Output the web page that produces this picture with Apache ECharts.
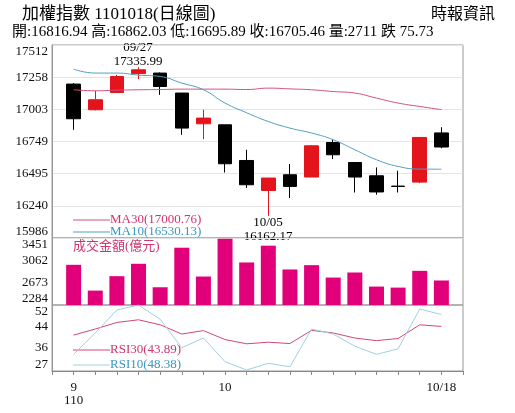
<!DOCTYPE html>
<html><head><meta charset="utf-8">
<script src="https://cdn.jsdelivr.net/npm/echarts@6/dist/echarts.min.js"></script>
<style>html,body{margin:0;background:#fff}#c{width:515px;height:413px}</style>
</head><body><div id="c"></div>
<script>
// 日期(首尾留白)
var dates = ['', '9/22','9/23','9/24','9/27','9/28','9/29','9/30','10/01','10/04','10/05',
  '10/06','10/07','10/08','10/12','10/13','10/14','10/15','10/18', ''];
// K線 [開, 收, 低, 高]
var kdata = ['-',
  [17203,16929,16842,17210],[17000,17079,16995,17150],[17136,17263,17136,17276],
  [17286,17316,17242,17336],[17290,17184,17118,17295],[17132,16855,16802,17132],
  [16889,16934,16768,17000],[16881,16573,16504,16881],[16599,16407,16381,16684],
  [16362,16460,16162,16460],[16486,16394,16302,16571],[16468,16715,16468,16720],
  [16741,16644,16610,16768],[16583,16468,16346,16583],[16478,16350,16328,16544],
  [16396,16394,16346,16518],[16428,16781,16420,16785],[16816.94,16705.46,16695.89,16862.03],
  '-'];
var ma10 = ['-',17321,17290,17290,17274,17263,17211,17158,17053,16976,16907,16855,16816,16763,16684,16605,16552,16531,16530,'-'];
var ma30 = ['-',17158,17150,17155,17158,17160,17163,17163,17163,17160,17171,17165,17158,17144,17132,17092,17053,17026,17001,'-'];
var volume = ['-',2984,2535,2786,3002,2593,3282,2780,3439,3025,3317,2903,2978,2762,2850,2605,2587,2879,2711,'-'];
var rsi30 = ['-',40.6,42.9,45.4,46.4,44.5,41.0,42.3,38.9,37.3,37.9,37.4,42.4,41.4,39.5,38.5,39.3,44.5,43.89,'-'];
var rsi10 = ['-',33.3,41.4,50.1,52.0,46.6,35.8,39.5,30.5,27.4,29.9,28.6,42.9,41.0,36.4,33.3,35.4,50.5,48.38,'-'];
var priceTicks = [15986,16240,16495,16749,17003,17258,17512];
var volTicks = [2284,2673,3062,3451];
var rsiTicks = [27,36,44,52];

var font = '"Liberation Serif","Noto Sans CJK TC",serif';
var chart = echarts.init(document.getElementById('c'));
var xCommon = {type:'category', data:dates, boundaryGap:false,
  axisLine:{show:false}, axisTick:{show:false}, axisLabel:{show:false}, splitLine:{show:false}};
function yAxisOf(idx, min, max, ticks, grid){
  return {type:'value', gridIndex:idx, min:min, max:max, scale:true,
    axisLine:{show:true, lineStyle:{color:'#999'}}, axisTick:{show:false},
    axisLabel:{customValues:ticks, color:'#111', fontFamily:font, fontSize:13, margin:4,
      verticalAlignMaxLabel:'top', verticalAlignMinLabel:'bottom',
      formatter:function(v){ return String(v); }},
    splitLine:{show:grid, lineStyle:{color:'#e4e4e4'}}};
}
var opt = {
  animation:false,
  textStyle:{fontFamily:font},
  grid:[
    {left:52, top:45, width:411, height:193, show:true, borderColor:'#999', borderWidth:1},
    {left:52, top:238, width:411, height:67, show:true, borderColor:'#999', borderWidth:1},
    {left:52, top:305, width:411, height:66, show:true, borderColor:'#999', borderWidth:1}
  ],
  xAxis:[
    Object.assign({gridIndex:0}, xCommon),
    Object.assign({gridIndex:1}, xCommon),
    {type:'category', gridIndex:2, data:dates, boundaryGap:false,
      axisLine:{show:true, lineStyle:{color:'#888'}},
      axisTick:{show:true, interval:0, length:4, inside:false, lineStyle:{color:'#888'}},
      axisLabel:{interval:0, color:'#111', fontFamily:font, fontSize:13, margin:10,
        formatter:function(v){ return v==='9/22' ? '9\n110' : v==='10/01' ? '10' : v==='10/18' ? '10/18' : ''; }},
      splitLine:{show:false}}
  ],
  yAxis:[
    (function(){ var a=yAxisOf(0,15986,17512,priceTicks,true); a.splitNumber=6; a.interval=254.333; return a; })(),
    yAxisOf(1,2284,3451,volTicks,false),
    yAxisOf(2,27,52,rsiTicks,false)
  ],
  series:[
    {type:'candlestick', xAxisIndex:0, yAxisIndex:0, data:kdata, barWidth:14,
      itemStyle:{color:'#e3141c', color0:'#000', borderColor:'#e3141c', borderColor0:'#000', borderWidth:1}},
    {type:'line', xAxisIndex:0, yAxisIndex:0, data:ma30, smooth:true, symbol:'none',
      lineStyle:{color:'#d0507f', width:1}},
    {type:'line', xAxisIndex:0, yAxisIndex:0, data:ma10, smooth:true, symbol:'none',
      lineStyle:{color:'#4f9fbf', width:1}},
    {type:'bar', xAxisIndex:1, yAxisIndex:1, data:volume, barWidth:15,
      itemStyle:{color:'#e2007a'}},
    {type:'line', xAxisIndex:2, yAxisIndex:2, data:rsi30, symbol:'none',
      lineStyle:{color:'#d0467a', width:1}},
    {type:'line', xAxisIndex:2, yAxisIndex:2, data:rsi10, symbol:'none',
      lineStyle:{color:'#9fd0e0', width:1}}
  ],
  graphic:[
    {type:'text', left:22, top:6, style:{text:'加權指數 1101018(日線圖)', font:'17px '+font, fill:'#000'}},
    {type:'text', right:20, top:7, style:{text:'時報資訊', font:'16px '+font, fill:'#000'}},
    {type:'text', left:12, top:25, style:{text:'開:16816.94 高:16862.03 低:16695.89 收:16705.46 量:2711 跌 75.73', font:'15px '+font, fill:'#000'}},
    {type:'text', x:138, y:41, style:{text:'09/27\n17335.99', font:'13px '+font, fill:'#000', align:'center', lineHeight:14}},
    {type:'text', x:268, y:216, style:{text:'10/05\n16162.17', font:'13px '+font, fill:'#000', align:'center', lineHeight:14}},
    {type:'line', shape:{x1:73,y1:220,x2:110,y2:220}, style:{stroke:'#d0507f', lineWidth:1}},
    {type:'line', shape:{x1:73,y1:232,x2:110,y2:232}, style:{stroke:'#4f9fbf', lineWidth:1}},
    {type:'text', x:110, y:213, style:{text:'MA30(17000.76)', font:'13px '+font, fill:'#d0346f'}},
    {type:'text', x:110, y:225, style:{text:'MA10(16530.13)', font:'13px '+font, fill:'#3a98c0'}},
    {type:'text', x:73, y:240, style:{text:'成交金額(億元)', font:'13px '+font, fill:'#d0346f'}},
    {type:'line', shape:{x1:73,y1:350,x2:110,y2:350}, style:{stroke:'#d0467a', lineWidth:1}},
    {type:'line', shape:{x1:73,y1:365,x2:110,y2:365}, style:{stroke:'#9fd0e0', lineWidth:1}},
    {type:'text', x:110, y:343, style:{text:'RSI30(43.89)', font:'13px '+font, fill:'#d0346f'}},
    {type:'text', x:110, y:358, style:{text:'RSI10(48.38)', font:'13px '+font, fill:'#3a98c0'}}
  ]
};
chart.setOption(opt);
</script></body></html>
